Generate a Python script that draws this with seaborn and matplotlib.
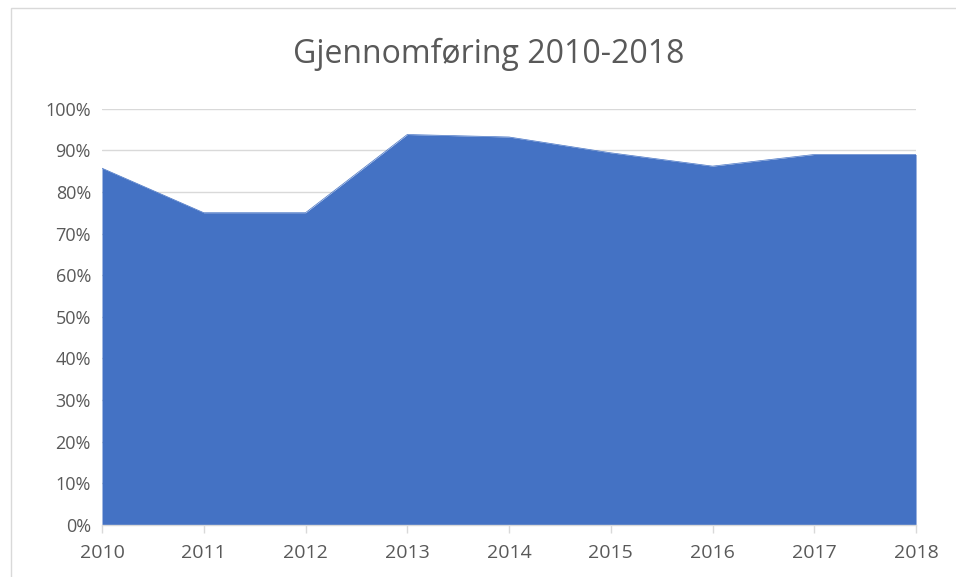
import matplotlib
matplotlib.use('Agg')
from matplotlib import pyplot as plt
from matplotlib.patches import Rectangle
import matplotlib.ticker as mtick
import seaborn as sns
import pandas as pd

years = [2010, 2011, 2012, 2013, 2014, 2015, 2016, 2017, 2018]
gjennomforing = [0.857, 0.75, 0.75, 0.938, 0.932, 0.894, 0.862, 0.89, 0.89]
y_ticks = [0, 0.1, 0.2, 0.3, 0.4, 0.5, 0.6, 0.7, 0.8, 0.9, 1.0]

df = pd.DataFrame({'Year': years, 'Verdi': gjennomforing})

sns.set_style('white')
plt.rcParams['font.family'] = ['Open Sans', 'DejaVu Sans']

fig = plt.figure(figsize=(9.56, 5.77), dpi=100)
ax = fig.add_axes([0.1067, 0.0906, 0.8515, 0.721])

blue = '#4472C4'
sns.lineplot(data=df, x='Year', y='Verdi', ax=ax, color=blue, linewidth=0.5)
ax.fill_between(df.Year, 0, df.Verdi, color=blue, linewidth=0, zorder=2)

ax.set_xlim(years[0], years[-1])
ax.set_ylim(0, 1.0)
ax.set_xticks(years)
ax.set_xticklabels([str(y) for y in years])
ax.set_yticks(y_ticks)
ax.yaxis.set_major_formatter(mtick.PercentFormatter(1.0, decimals=0))
ax.grid(axis='y', color='#D9D9D9', linewidth=1, zorder=0)
ax.set_axisbelow(True)
ax.set_xlabel('')
ax.set_ylabel('')

for s in ['top', 'right', 'left']:
    ax.spines[s].set_visible(False)
ax.spines['bottom'].set_color('#D9D9D9')
ax.spines['bottom'].set_linewidth(1)
ax.spines['bottom'].set_zorder(3)

ax.tick_params(axis='x', length=6, color='#D9D9D9', width=1,
               labelsize=14, pad=8, direction='out', bottom=True)
ax.tick_params(axis='x', labelcolor='#595959')
ax.tick_params(axis='y', length=0, labelcolor='#595959', labelsize=13, pad=8)

fig.text(0.511, 0.905, 'Gjennomføring 2010-2018', ha='center', va='center',
         fontsize=23, color='#595959')

fig.patches.append(Rectangle((0.011, -0.01), 0.995, 0.996, transform=fig.transFigure,
                             fill=False, edgecolor='#D9D9D9', linewidth=1))

fig.savefig('out.png', dpi=100)
